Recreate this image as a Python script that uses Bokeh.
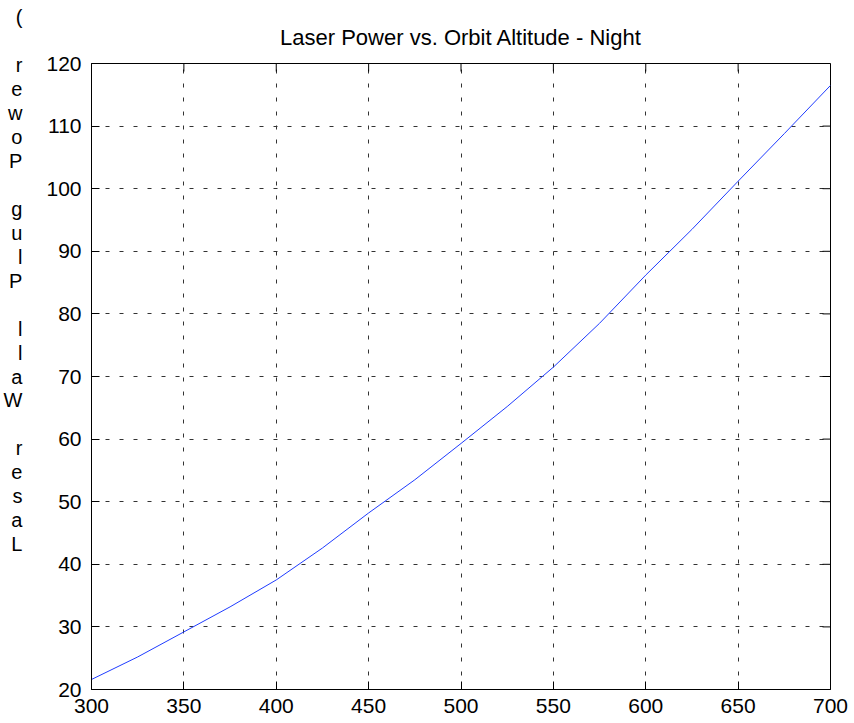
from bokeh.plotting import figure
from bokeh.models import Range1d, FixedTicker
from bokeh.embed import file_html
from bokeh.resources import INLINE

# ---- data ----
altitude = [300, 325, 350, 375, 400, 425, 450, 475, 500, 525, 550, 575, 600, 625, 650, 675, 700]
power = [21.6, 25.2, 29.2, 33.2, 37.5, 42.6, 48.2, 53.5, 59.3, 65.2, 71.5, 78.5, 86.2, 93.5, 101.2, 108.8, 116.5]
x_ticks = [300, 350, 400, 450, 500, 550, 600, 650, 700]
y_ticks = [20, 30, 40, 50, 60, 70, 80, 90, 100, 110, 120]
title_text = "Laser Power vs. Orbit Altitude - Night"
ylabel_text = "Laser Wall Plug Power ("

FONT = "Liberation Sans"
FS = "21px"

W, H = 854, 723
ML, MR, MT, MB = 89, 24, 63, 34
x0, x1 = 300, 700
y0, y1 = 20, 120

p = figure(width=W, height=H, x_range=Range1d(x0, x1), y_range=Range1d(y0, y1),
           output_backend="svg", toolbar_location=None,
           min_border_left=ML, min_border_right=MR, min_border_top=MT, min_border_bottom=MB)
p.background_fill_color = "white"
p.border_fill_color = "white"
p.outline_line_color = "black"
p.outline_line_width = 1
p.outline_line_alpha = 1.0

# title
p.title.text = title_text
p.title.align = "center"
p.title.text_font = FONT
p.title.text_font_size = "22px"
p.title.text_font_style = "normal"
p.title.text_color = "black"
p.title.standoff = 28

def style_axis(ax):
    ax.axis_line_color = "black"
    ax.axis_line_width = 1
    ax.major_tick_line_color = "black"
    ax.major_tick_in = 8
    ax.major_tick_out = 0
    ax.minor_tick_line_color = None
    ax.major_label_text_font = FONT
    ax.major_label_text_font_size = FS
    ax.major_label_text_color = "black"

p.xaxis.ticker = FixedTicker(ticks=x_ticks)
p.yaxis.ticker = FixedTicker(ticks=y_ticks)
style_axis(p.xaxis[0])
style_axis(p.yaxis[0])
p.xaxis[0].major_label_standoff = 9
p.yaxis[0].major_label_standoff = 10

# vertical stacked y label: upright characters, reading bottom to top
chars = list(ylabel_text)[::-1]
pad = [""] * 8
p.yaxis[0].axis_label = "\n".join(chars + pad)
p.yaxis[0].axis_label_orientation = "horizontal"
p.yaxis[0].axis_label_text_font = FONT
p.yaxis[0].axis_label_text_font_size = "20px"
p.yaxis[0].axis_label_text_font_style = "normal"
p.yaxis[0].axis_label_text_color = "black"
p.yaxis[0].axis_label_text_line_height = 1.09
p.yaxis[0].axis_label_standoff = 21

for g, t in ((p.xgrid, x_ticks), (p.ygrid, y_ticks)):
    g.ticker = FixedTicker(ticks=t)
    g.grid_line_color = "#333333"
    g.grid_line_alpha = 1.0
    g.grid_line_width = 1
    g.grid_line_dash = "4 10"

# inward ticks on the top and right edges of the box (MATLAB style)
fw = W - ML - MR
fh = H - MT - MB
tick_dx = 8 / fw * (x1 - x0)
tick_dy = 8 / fh * (y1 - y0)
p.segment(x0=x_ticks, y0=[y1] * len(x_ticks), x1=x_ticks, y1=[y1 - tick_dy] * len(x_ticks),
          line_color="black", line_width=1)
p.segment(x0=[x1] * len(y_ticks), y0=y_ticks, x1=[x1 - tick_dx] * len(y_ticks), y1=y_ticks,
          line_color="black", line_width=1)

p.line(altitude, power, line_color="#1f3cff", line_width=1)

open("out.html", "w").write(file_html(p, INLINE))
